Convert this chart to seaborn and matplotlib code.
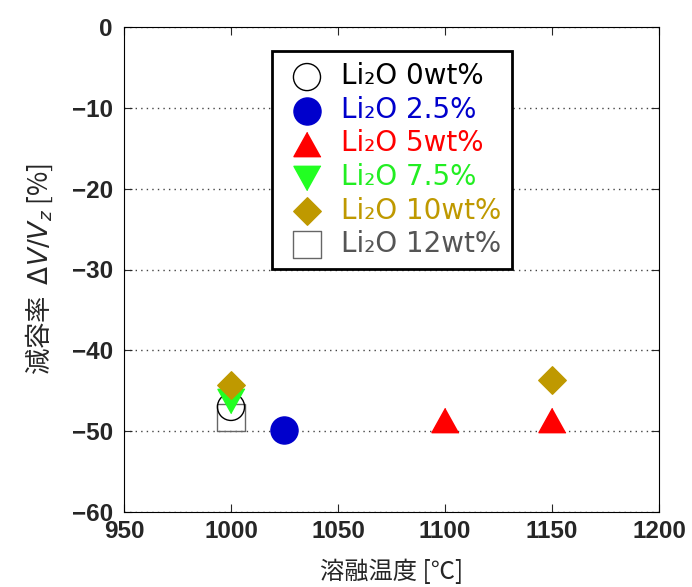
import matplotlib
matplotlib.use("Agg")
import matplotlib.pyplot as plt
import seaborn as sns
import pandas as pd

# data
labels = ["Li₂O 0wt%", "Li₂O 2.5%", "Li₂O 5wt%", "Li₂O 7.5%", "Li₂O 10wt%", "Li₂O 12wt%"]
temps = [[1000], [1025], [1100, 1150], [1000], [1000, 1150], [1000]]
values = [[-47.0], [-49.8], [-48.6, -48.6], [-46.3], [-44.3, -43.7], [-48.3]]
xticks = [950, 1000, 1050, 1100, 1150, 1200]
yticks = [0, -10, -20, -30, -40, -50, -60]

tri_up = [(0, 0.9), (-1, -0.9), (1, -0.9)]
tri_down = [(0, -0.9), (-1, 0.9), (1, 0.9)]
markers = ["o", "o", tri_up, tri_down, "D", "s"]
faces = ["none", "#0000cc", "#ff0000", "#22ff22", "#bf9900", "none"]
edges = ["black", "#0000cc", "#ff0000", "#22ff22", "#bf9900", "#666666"]
textcolors = ["black", "#0000cc", "#ff0000", "#22ee22", "#bf9900", "#555555"]
sizes = [19.5, 19.5, 19.5, 19.5, 14.0, 19.5]
zorders = [4, 4, 4, 5, 6, 3]

sns.set_style("ticks")
plt.rcParams['font.family'] = ['Noto Sans CJK JP', 'DejaVu Sans']

fig = plt.figure(figsize=(6.92, 5.87), dpi=100)
ax = fig.add_axes([124/692, 1-512/587, (659-124)/692, (512-27)/587])

for i, lab in enumerate(labels):
    df = pd.DataFrame({"x": temps[i], "y": values[i]})
    sns.scatterplot(data=df, x="x", y="y", ax=ax, marker=markers[i],
                    s=sizes[i]**2, facecolor=faces[i], edgecolor=edges[i],
                    linewidth=1.0, label=lab, zorder=zorders[i])

ax.set_xlim(950, 1200)
ax.set_ylim(-60, 0)
ax.set_xticks(xticks)
ax.set_yticks(yticks)
ax.set_xticklabels([str(t) for t in xticks], family="Liberation Sans", weight="bold", fontsize=17.5)
ax.set_yticklabels([str(t).replace("-", "−") for t in yticks], family="Liberation Sans", weight="bold", fontsize=17.5)
ax.tick_params(direction="in", top=True, right=True, length=6, width=0.8)
ax.tick_params(axis="x", pad=6)
ax.tick_params(axis="y", pad=8)
for sp in ax.spines.values():
    sp.set_linewidth(0.8)
    sp.set_color("black")
ax.yaxis.grid(True, linestyle=(0, (1, 3)), color="#444444", linewidth=1.0)
ax.set_axisbelow(True)

ax.set_xlabel("溶融温度 [℃]", fontsize=17.5, labelpad=11)
ax.set_ylabel("減容率  $\\mathit{\\Delta V/V_z}$ [%]", fontsize=19, labelpad=12)

leg = ax.legend(loc="upper left", bbox_to_anchor=(0.2766, 0.95), frameon=True,
                fancybox=False, framealpha=1, edgecolor="black",
                prop={"family": "DejaVu Sans", "size": 20},
                handletextpad=0.36, labelspacing=0.2, borderpad=0.4,
                handlelength=1.72, borderaxespad=0)
leg.get_frame().set_linewidth(2.0)
for t, c in zip(leg.get_texts(), textcolors):
    t.set_color(c)

fig.savefig("out.png", dpi=100)
